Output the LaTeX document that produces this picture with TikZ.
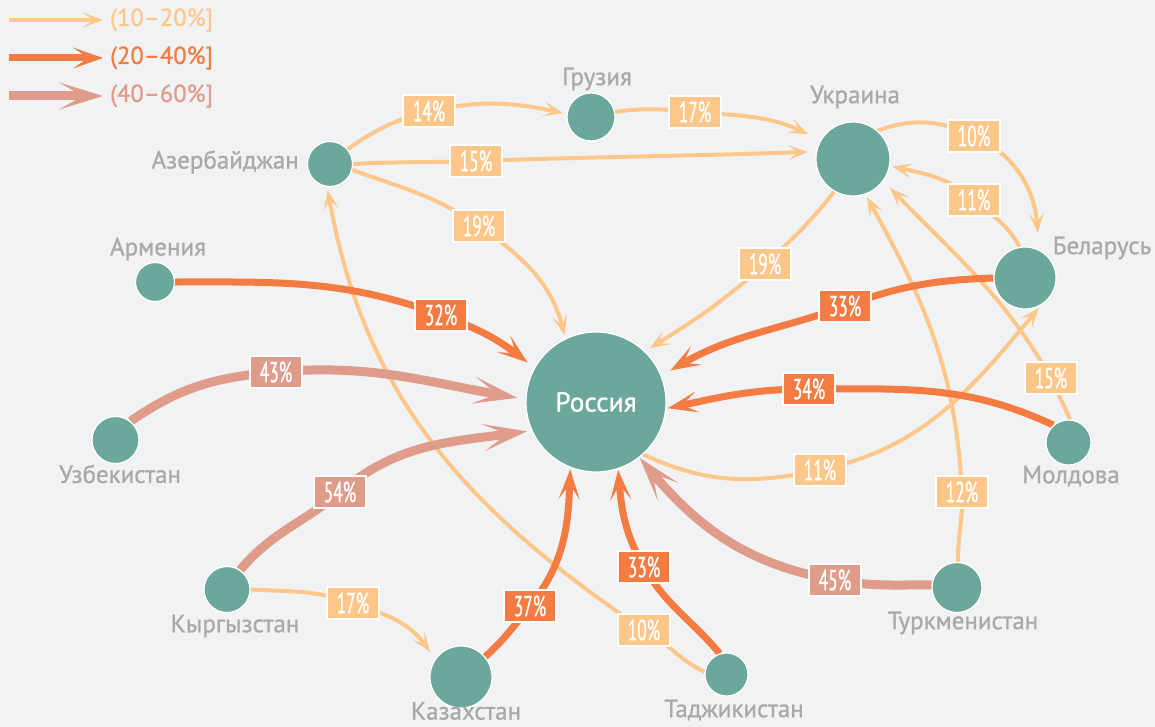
\documentclass[tikz,border=0pt]{standalone}
\usepackage{fontspec}
\setmainfont{PT Sans}
\newfontfamily\condfont[FakeStretch=0.6,FakeBold=0.7]{PT Sans}
\newfontfamily\labfont[FakeBold=0.9]{PT Sans}
\usetikzlibrary{arrows.meta,calc}
\definecolor{bgc}{HTML}{F1F2F4}
\definecolor{teal}{HTML}{6BA79B}
\definecolor{lightc}{HTML}{FEC78A}
\definecolor{medc}{HTML}{F47B42}
\definecolor{pinkc}{HTML}{E09C8A}
\definecolor{grayt}{HTML}{A8A9AB}
\pgfdeclarelayer{bglayer}
\pgfdeclarelayer{edgelayer}
\pgfsetlayers{bglayer,edgelayer,main}
\begin{document}
\begin{tikzpicture}[x=1pt,y=1pt,
  country/.style={circle,fill=teal,draw=white,line width=1.2pt,inner sep=0pt},
  clabel/.style={text=grayt,font=\labfont\fontsize{25}{25}\selectfont,inner sep=0pt},
  lightedge/.style={draw=lightc,line width=4pt,-{Stealth[length=20pt,width=15pt,inset=10pt]}},
  mededge/.style={draw=medc,line width=7pt,-{Stealth[length=30pt,width=21pt,inset=15pt]}},
  pinkedge/.style={draw=pinkc,line width=9pt,-{Stealth[length=44pt,width=27pt,inset=24pt]}},
  pbox/.style={draw=white,line width=1.5pt,minimum width=52pt,minimum height=32pt,inner sep=0pt,
    text=white,font=\condfont\fontsize{29}{29}\selectfont},
  lightbox/.style={pbox,fill=lightc},
  medbox/.style={pbox,fill=medc},
  pinkbox/.style={pbox,fill=pinkc},
  legtext/.style={anchor=west,inner sep=0pt,font=\labfont\fontsize{24.5}{24.5}\selectfont}
]
\begin{pgfonlayer}{bglayer}
\fill[bgc] (0,0) rectangle (1155,-727);
\end{pgfonlayer}
\useasboundingbox (0,0) rectangle (1155,-727);

% countries
\node[country,minimum size=140pt,text=white,font=\labfont\fontsize{27.5}{27.5}\selectfont] (rus) at (596,-402) {Россия};
\node[country,minimum size=48pt] (geo) at (591,-117) {};
\node[country,minimum size=74pt] (ukr) at (853,-159) {};
\node[country,minimum size=62pt] (bel) at (1025,-278) {};
\node[country,minimum size=45pt] (az) at (330,-164) {};
\node[country,minimum size=39pt] (arm) at (155,-282) {};
\node[country,minimum size=47pt] (uzb) at (115.5,-440) {};
\node[country,minimum size=46pt] (kyr) at (227,-589.5) {};
\node[country,minimum size=62pt] (kaz) at (461,-677) {};
\node[country,minimum size=43pt] (taj) at (726.5,-674.5) {};
\node[country,minimum size=50pt] (tur) at (957,-587.5) {};
\node[country,minimum size=45pt] (mol) at (1068.5,-442.5) {};

% country names
\node[clabel] (geo-t) at (597,-79) {Грузия};
\node[clabel] (ukr-t) at (855,-97) {Украина};
\node[clabel] (bel-t) at (1102,-248) {Беларусь};
\node[clabel,anchor=east] (az-t) at (299,-162) {Азербайджан};
\node[clabel] (arm-t) at (158,-249) {Армения};
\node[clabel] (uzb-t) at (120,-474) {Узбекистан};
\node[clabel] (kyr-t) at (235,-626) {Кыргызстан};
\node[clabel] (kaz-t) at (466,-711) {Казахстан};
\node[clabel] (taj-t) at (734,-710) {Таджикистан};
\node[clabel] (tur-t) at (963,-623) {Туркменистан};
\node[clabel] (mol-t) at (1071,-476) {Молдова};

% label coordinates
\coordinate (l14) at (429,-111);
\coordinate (l17a) at (695,-112);
\coordinate (l15a) at (476,-161);
\coordinate (l19a) at (479,-226);
\coordinate (l19b) at (765,-264);
\coordinate (l10a) at (974,-136);
\coordinate (l11a) at (974,-200);
\coordinate (l15b) at (1051,-378);
\coordinate (l12) at (962,-492);
\coordinate (l11b) at (820,-470);
\coordinate (l10b) at (644,-630);
\coordinate (l17b) at (353,-603);
\coordinate (l32) at (441,-315);
\coordinate (l33a) at (845,-306);
\coordinate (l34) at (809,-389);
\coordinate (l37) at (530,-606);
\coordinate (l33b) at (644,-567);
\coordinate (l43) at (276,-372);
\coordinate (l54) at (340,-492);
\coordinate (l45) at (835,-580);

\begin{pgfonlayer}{edgelayer}
% light edges
\draw[lightedge] (az.40) to[out=35,in=195] (l14) to[out=12,in=168] ($(geo)+(172:28)$);
\draw[lightedge] (geo.12) to[out=8,in=175] (l17a) to[out=-5,in=155] ($(ukr)+(151:51)$);
\draw[lightedge] (az.0) to[out=3,in=182] (l15a) to[out=2,in=182] ($(ukr)+(171:45.5)$);
\draw[lightedge] (az.-15) to[out=-20,in=145] (l19a) to[out=-35,in=105] ($(rus)+(115:74)$);
\draw[lightedge] (ukr.240) to[out=232,in=42] (l19b) to[out=222,in=32] ($(rus)+(45:76)$);
\draw[lightedge] (ukr.49) to[out=20,in=155] (l10a) to[out=-25,in=95] ($(bel)+(74:47)$);
\draw[lightedge] (bel.100) to[out=118,in=-41] (l11a) to[out=139,in=-12] ($(ukr)+(-11:40)$);
\draw[lightedge] (mol.86) to[out=114,in=-66] (l15b) to[out=120,in=-46] ($(ukr)+(-38:47)$);
\draw[lightedge] (tur.88) to[out=90,in=-88] (l12) to[out=93,in=-61] ($(ukr)+(-70:40.5)$);
\draw[lightedge] (rus.-48) to[out=-25,in=192] (l11b) to[out=12,in=230] ($(bel)+(-65:33)$);
\draw[lightedge] (taj.173) to[out=155,in=-28] (l10b) to[out=146,in=-80] ($(az)+(265:26)$);
\draw[lightedge] (kyr.0) to[out=-3,in=161] (l17b) to[out=-19,in=125] ($(kaz)+(141:40)$);
% medium edges
\draw[mededge] (arm.0) to[out=0,in=160] (l32) to[out=-20,in=142] ($(rus)+(150:79)$);
\draw[mededge] (bel.180) to[out=182,in=20] (l33a) to[out=200,in=30] ($(rus)+(23:80.6)$);
\draw[mededge] (mol.131) to[out=155,in=0] (l34) to[out=180,in=12] ($(rus)+(-5:72)$);
\draw[mededge] (kaz.40) to[out=42,in=231] (l37) to[out=51,in=-92] ($(rus)+(249:72)$);
\draw[mededge] (taj.108) to[out=130,in=-60] (l33b) to[out=120,in=-85] ($(rus)+(-72:71.5)$);
% pink edges
\draw[pinkedge] (uzb.51) to[out=35,in=185] (l43) to[out=5,in=170] ($(rus)+(177:79)$);
\draw[pinkedge] (kyr.56) to[out=50,in=220] (l54) to[out=40,in=188] ($(rus)+(203:75)$);
\draw[pinkedge] (tur.174) to[out=180,in=-10] (l45) to[out=170,in=-50] ($(rus)+(-52:71)$);
\end{pgfonlayer}

% percentage boxes
\node[lightbox] (b14) at (l14) {14\%};
\node[lightbox] (b17a) at (l17a) {17\%};
\node[lightbox] (b15a) at (l15a) {15\%};
\node[lightbox] (b19a) at (l19a) {19\%};
\node[lightbox] (b19b) at (l19b) {19\%};
\node[lightbox] (b10a) at (l10a) {10\%};
\node[lightbox] (b11a) at (l11a) {11\%};
\node[lightbox] (b15b) at (l15b) {15\%};
\node[lightbox] (b12) at (l12) {12\%};
\node[lightbox] (b11b) at (l11b) {11\%};
\node[lightbox] (b10b) at (l10b) {10\%};
\node[lightbox] (b17b) at (l17b) {17\%};
\node[medbox] (b32) at (l32) {32\%};
\node[medbox] (b33a) at (l33a) {33\%};
\node[medbox] (b34) at (l34) {34\%};
\node[medbox] (b37) at (l37) {37\%};
\node[medbox] (b33b) at (l33b) {33\%};
\node[pinkbox] (b43) at (l43) {43\%};
\node[pinkbox] (b54) at (l54) {54\%};
\node[pinkbox] (b45) at (l45) {45\%};

% legend
\coordinate (g1a) at (9,-20);  \coordinate (g1b) at (103,-20);
\coordinate (g2a) at (9,-58);  \coordinate (g2b) at (103,-58);
\coordinate (g3a) at (9,-96);  \coordinate (g3b) at (103,-96);
\draw[lightedge] (g1a) -- (g1b);
\draw[mededge] (g2a) -- (g2b);
\draw[pinkedge] (g3a) -- (g3b);
\node[legtext,text=lightc] (t1) at (110,-20) {(10–20\%]};
\node[legtext,text=medc] (t2) at (110,-58) {(20–40\%]};
\node[legtext,text=pinkc] (t3) at (110,-96) {(40–60\%]};
\end{tikzpicture}
\end{document}
